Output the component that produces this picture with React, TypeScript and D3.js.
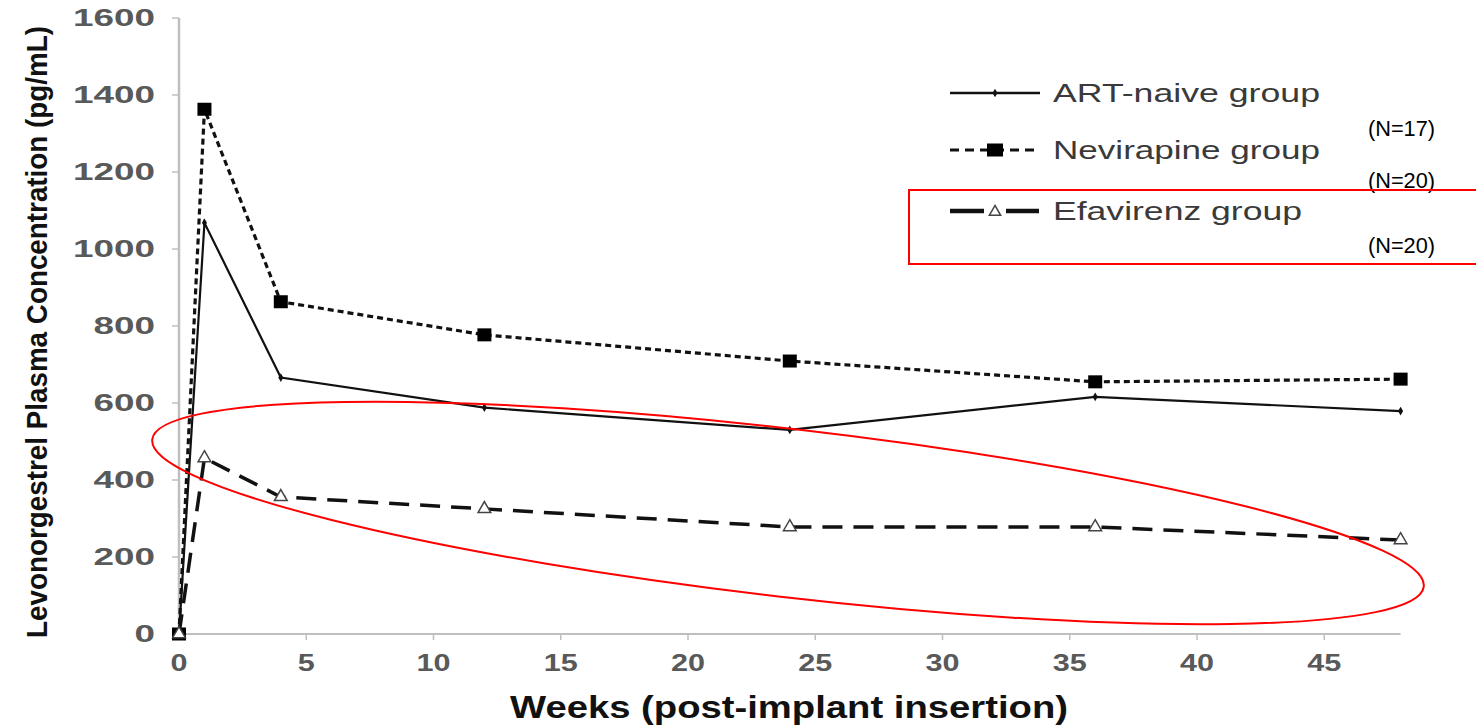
import React from "react";
import * as d3 from "d3";

const weeks = [0, 1, 4, 12, 24, 36, 48];
const artNaive = [0, 1068, 666, 588, 530, 616, 579];
const nevirapine = [0, 1363, 863, 777, 709, 655, 662];
const efavirenz = [0, 457, 356, 325, 278, 278, 244];
const seriesNames = ["ART-naive group", "Nevirapine group", "Efavirenz group"];
const nLabels = ["(N=17)", "(N=20)", "(N=20)"];
const xTicks = [0, 5, 10, 15, 20, 25, 30, 35, 40, 45];
const yTicks = [0, 200, 400, 600, 800, 1000, 1200, 1400, 1600];

const W = 1476;
const H = 726;

export default function App() {
  const x = d3.scaleLinear().domain([0, 48]).range([179, 1400.6]);
  const y = d3.scaleLinear().domain([0, 1600]).range([634, 18]);
  const line = (vals: number[]) =>
    d3.line<number>().x((_, i) => x(weeks[i])).y((v) => y(v))(vals) || "";

  const tickColor = "#595959";
  const axisColor = "#bfbfbf";
  const tri = d3.symbol().type(d3.symbolTriangle).size(70)() || "";
  const triSmall = d3.symbol().type(d3.symbolTriangle).size(55)() || "";
  const dia = d3.symbol().type(d3.symbolDiamond).size(22)() || "";
  const legendLen = [267, 267, 249];

  return (
    <svg
      width={W}
      height={H}
      style={{ position: "absolute", left: 0, top: 0, background: "#fff" }}
    >
      <rect x={0} y={0} width={W} height={H} fill="#fff" />
      {/* Axes */}
      <line x1={x(0)} x2={x(0)} y1={y(1600)} y2={y(0)} stroke={axisColor} strokeWidth={2.5} />
      <line x1={x(0)} x2={x(48)} y1={y(0)} y2={y(0)} stroke={axisColor} strokeWidth={2} />
      {yTicks.map((t) => (
        <g key={"y" + t}>
          <line x1={x(0) - 7} x2={x(0)} y1={y(t)} y2={y(t)} stroke={axisColor} strokeWidth={1.5} />
          <text
            x={155}
            y={y(t)}
            textAnchor="end"
            dominantBaseline="central"
            fontFamily="Liberation Sans, Arial, sans-serif"
            fontWeight="bold"
            fontSize={23}
            fill={tickColor}
            textLength={String(t).length * 20.5}
            lengthAdjust="spacingAndGlyphs"
          >
            {t}
          </text>
        </g>
      ))}
      {xTicks.map((t) => (
        <g key={"x" + t}>
          <line x1={x(t)} x2={x(t)} y1={y(0)} y2={y(0) + 6} stroke={axisColor} strokeWidth={1.5} />
          <text
            x={x(t)}
            y={662}
            textAnchor="middle"
            dominantBaseline="central"
            fontFamily="Liberation Sans, Arial, sans-serif"
            fontWeight="bold"
            fontSize={24}
            fill={tickColor}
            textLength={String(t).length * 17}
            lengthAdjust="spacingAndGlyphs"
          >
            {t}
          </text>
        </g>
      ))}
      {/* Axis titles */}
      <text
        transform={`translate(47, ${(24 + 640) / 2}) rotate(-90) scale(1, 1.22)`}
        textAnchor="middle"
        fontFamily="Liberation Sans, Arial, sans-serif"
        fontWeight="bold"
        fontSize={24.5}
        fill="#111"
        textLength={612}
        lengthAdjust="spacingAndGlyphs"
      >
        Levonorgestrel Plasma Concentration (pg/mL)
      </text>
      <text
        x={789}
        y={718}
        textAnchor="middle"
        fontFamily="Liberation Sans, Arial, sans-serif"
        fontWeight="bold"
        fontSize={31}
        fill="#111"
        textLength={558}
        lengthAdjust="spacingAndGlyphs"
      >
        Weeks (post-implant insertion)
      </text>

      {/* Series lines */}
      <path d={line(artNaive)} fill="none" stroke="#111" strokeWidth={2.2} />
      <path d={line(nevirapine)} fill="none" stroke="#111" strokeWidth={3.2} strokeDasharray="6,4" />
      <path d={line(efavirenz)} fill="none" stroke="#111" strokeWidth={3.5} strokeDasharray="20,11" />

      {/* Markers */}
      {artNaive.map((v, i) => (
        <path key={"a" + i} d={dia} transform={`translate(${x(weeks[i])},${y(v)})`} fill="#111" />
      ))}
      {nevirapine.map((v, i) => (
        <rect
          key={"n" + i}
          x={x(weeks[i]) - 7}
          y={y(v) - 6.5}
          width={14}
          height={13}
          fill="#000"
        />
      ))}
      {efavirenz.map((v, i) => (
        <path
          key={"e" + i}
          d={tri}
          transform={`translate(${x(weeks[i])},${y(v)})`}
          fill="#fff"
          stroke="#444"
          strokeWidth={1.5}
        />
      ))}

      {/* Legend */}
      {seriesNames.map((name, i) => {
        const ly = [93, 150, 211][i];
        return (
          <g key={"l" + i}>
            {i === 0 && (
              <>
                <line x1={950} x2={1040} y1={ly} y2={ly} stroke="#111" strokeWidth={2.4} />
                <path d={dia} transform={`translate(995,${ly})`} fill="#111" />
              </>
            )}
            {i === 1 && (
              <>
                <line x1={950} x2={1040} y1={ly} y2={ly} stroke="#111" strokeWidth={3.2} strokeDasharray="9,6" />
                <rect x={987} y={ly - 6.5} width={16} height={13} fill="#000" />
              </>
            )}
            {i === 2 && (
              <>
                <line x1={950} x2={984} y1={ly} y2={ly} stroke="#111" strokeWidth={4.5} />
                <line x1={1006} x2={1039} y1={ly} y2={ly} stroke="#111" strokeWidth={4.5} />
                <path d={triSmall} transform={`translate(995,${ly + 1})`} fill="#fff" stroke="#444" strokeWidth={1.5} />
              </>
            )}
            <text
              x={1053}
              y={ly}
              dominantBaseline="central"
              fontFamily="Liberation Sans, Arial, sans-serif"
              fontSize={25}
              fill="#3a3a3a"
              textLength={legendLen[i]}
              lengthAdjust="spacingAndGlyphs"
            >
              {name}
            </text>
          </g>
        );
      })}
      {nLabels.map((t, i) => (
        <text
          key={"nl" + i}
          x={1368}
          y={[128, 180, 245][i]}
          dominantBaseline="central"
          fontFamily="Liberation Sans, Arial, sans-serif"
          fontSize={22}
          fill="#000"
          textLength={67}
          lengthAdjust="spacingAndGlyphs"
        >
          {t}
        </text>
      ))}

      {/* Red annotations */}
      <rect x={909} y={190} width={600} height={74} fill="none" stroke="#ff0000" strokeWidth={2} />
      <ellipse
        cx={788}
        cy={513}
        rx={640}
        ry={84}
        transform="rotate(6.6 788 513)"
        fill="none"
        stroke="#ff0000"
        strokeWidth={2}
      />
    </svg>
  );
}
